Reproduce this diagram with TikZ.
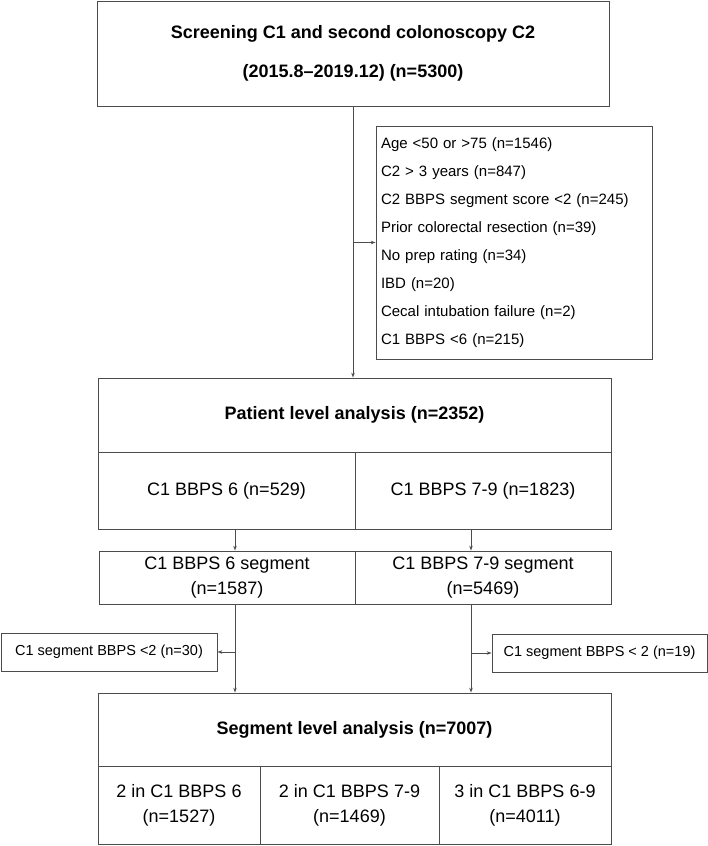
\documentclass[tikz,border=0pt]{standalone}
\usepackage{fontspec}
\setmainfont{Liberation Sans}
\usetikzlibrary{arrows.meta}

\tikzset{
    cell/.style={draw=black!70, line width=0.8pt, inner sep=0pt, align=center, font=\fontsize{18}{24}\selectfont},
    headcell/.style={cell, font=\fontsize{18}{24}\selectfont\bfseries},
    sidebox/.style={cell, font=\fontsize{14.5}{18}\selectfont},
    flow/.style={draw=black!70, line width=0.8pt, -{Stealth[length=5pt,width=3.5pt]}}
}

\begin{document}
\begin{tikzpicture}[x=1pt, y=-1pt]
    \useasboundingbox (0,0) rectangle (708,846);

    \node[headcell, minimum width=512, minimum height=105, font=\fontsize{18}{39}\selectfont\bfseries] (screen) at (353,53.5)
        {Screening C1 and second colonoscopy C2\\(2015.8--2019.12) (n=5300)};
    \node[cell, minimum width=276, minimum height=233, text width=266, align=left, font=\fontsize{15}{28}\selectfont] (excl) at (514,242.5)
        {Age <50 or >75 (n=1546)\\C2 > 3 years (n=847)\\C2 BBPS segment score <2 (n=245)\\Prior colorectal resection (n=39)\\No prep rating (n=34)\\IBD (n=20)\\Cecal intubation failure (n=2)\\C1 BBPS <6 (n=215)};

    \node[headcell, minimum width=513, minimum height=74] (patient) at (354.5,415) {Patient level analysis (n=2352)};
    \node[cell, minimum width=257, minimum height=77] (pat6) at (226.5,490.5) {C1 BBPS 6 (n=529)};
    \node[cell, minimum width=256, minimum height=77] (pat79) at (483,490.5) {C1 BBPS 7-9 (n=1823)};

    \node[cell, minimum width=256, minimum height=53, font=\fontsize{18}{25}\selectfont] (seg6) at (227,577.5) {C1 BBPS 6 segment\\(n=1587)};
    \node[cell, minimum width=256, minimum height=53, font=\fontsize{18}{25}\selectfont] (seg79) at (483,577.5) {C1 BBPS 7-9 segment\\(n=5469)};

    \node[sidebox, minimum width=216, minimum height=38] (drop6) at (109,652) {C1 segment BBPS <2 (n=30)};
    \node[sidebox, minimum width=215, minimum height=38] (drop79) at (599.5,653) {C1 segment BBPS < 2 (n=19)};

    \node[headcell, minimum width=513, minimum height=73] (segment) at (354.5,729.5) {Segment level analysis (n=7007)};
    \node[cell, minimum width=162, minimum height=78, font=\fontsize{18}{25}\selectfont] (sub6) at (179,805) {2 in C1 BBPS 6\\(n=1527)};
    \node[cell, minimum width=179, minimum height=78, font=\fontsize{18}{25}\selectfont] (sub79) at (349.5,805) {2 in C1 BBPS 7-9\\(n=1469)};
    \node[cell, minimum width=172, minimum height=78, font=\fontsize{18}{25}\selectfont] (sub69) at (525,805) {3 in C1 BBPS 6-9\\(n=4011)};

    % trunk points
    \coordinate (t6) at (235,0);
    \coordinate (t79) at (471,0);
    \coordinate (exclfork) at (screen.south |- excl.west);
    \coordinate (fork6) at (t6 |- drop6.east);
    \coordinate (fork79) at (t79 |- drop79.west);

    \draw[flow] (screen.south) -- (screen.south |- patient.north);
    \draw[flow] (exclfork) -- (excl.west);
    \draw[flow] (t6 |- pat6.south) -- (t6 |- seg6.north);
    \draw[flow] (t79 |- pat79.south) -- (t79 |- seg79.north);
    \draw[flow] (t6 |- seg6.south) -- (t6 |- segment.north);
    \draw[flow] (t79 |- seg79.south) -- (t79 |- segment.north);
    \draw[flow] (fork6) -- (drop6.east);
    \draw[flow] (fork79) -- (drop79.west);
\end{tikzpicture}
\end{document}
